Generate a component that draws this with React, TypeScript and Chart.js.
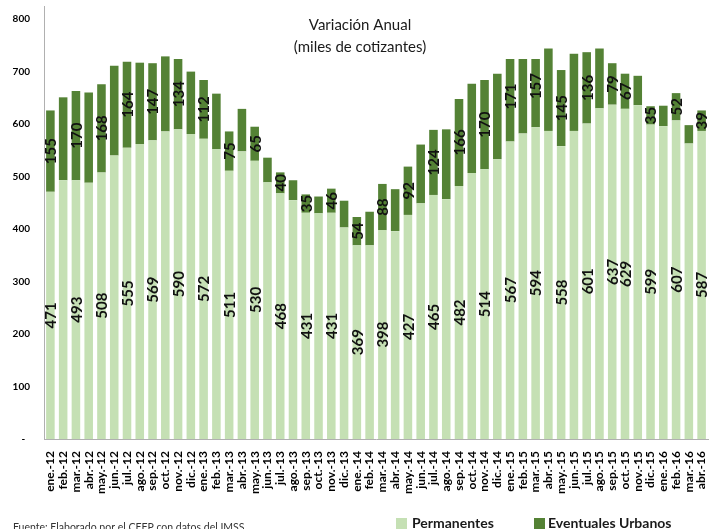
import React, { useEffect, useRef } from "react";
import { Chart, registerables } from "chart.js";

Chart.register(...registerables);

const categories = [
  "ene.-12", "feb.-12", "mar.-12", "abr.-12", "may.-12", "jun.-12", "jul.-12", "ago.-12", "sep.-12", "oct.-12", "nov.-12", "dic.-12",
  "ene.-13", "feb.-13", "mar.-13", "abr.-13", "may.-13", "jun.-13", "jul.-13", "ago.-13", "sep.-13", "oct.-13", "nov.-13", "dic.-13",
  "ene.-14", "feb.-14", "mar.-14", "abr.-14", "may.-14", "jun.-14", "jul.-14", "ago.-14", "sep.-14", "oct.-14", "nov.-14", "dic.-14",
  "ene.-15", "feb.-15", "mar.-15", "abr.-15", "may.-15", "jun.-15", "jul.-15", "ago.-15", "sep.-15", "oct.-15", "nov.-15", "dic.-15",
  "ene.-16", "feb.-16", "mar.-16", "abr.-16",
];

const permanentes = [
  471, 493, 493, 488, 508, 540, 555, 562, 569, 586, 590, 581,
  572, 552, 511, 548, 530, 489, 468, 455, 431, 430, 431, 403,
  369, 369, 398, 396, 427, 449, 465, 457, 482, 507, 514, 533,
  567, 582, 594, 587, 558, 587, 601, 630, 637, 629, 636, 599,
  596, 607, 563, 587,
];

const eventuales = [
  155, 158, 170, 172, 168, 171, 164, 155, 147, 143, 134, 119,
  112, 106, 75, 81, 65, 47, 40, 38, 35, 32, 46, 51,
  54, 64, 88, 80, 92, 112, 124, 133, 166, 170, 170, 163,
  171, 165, 157, 157, 145, 147, 136, 114, 79, 67, 56, 35,
  39, 52, 35, 39,
];

// indices of bars whose value is labelled in the reference
const labeledPerm = [0, 2, 4, 6, 8, 10, 12, 14, 16, 18, 20, 22, 24, 26, 28, 30, 32, 34, 36, 38, 40, 42, 44, 45, 47, 49, 51];
const labeledEv = [0, 2, 4, 6, 8, 10, 12, 14, 16, 18, 20, 22, 24, 26, 28, 30, 32, 34, 36, 38, 40, 42, 44, 45, 47, 49, 51];

const yTicks = [0, 100, 200, 300, 400, 500, 600, 700, 800];

const seriesNames = ["Permanentes", "Eventuales Urbanos"];
const titleLines = ["Variación Anual", "(miles de cotizantes)"];
const footer = "Fuente: Elaborado por el CEFP con datos del IMSS.";

const LIGHT = "#c5e0b4";
const DARK = "#548235";
const FONT = "Lato, 'Open Sans', sans-serif";

function zeroPadding(scale: any) {
  scale.paddingTop = 0;
  scale.paddingBottom = 0;
  scale.paddingLeft = 0;
  scale.paddingRight = 0;
}

export default function App() {
  const ref = useRef<HTMLCanvasElement | null>(null);

  useEffect(() => {
    document.body.style.margin = "0";
    const canvas = ref.current;
    if (!canvas) return;

    const overlay = {
      id: "overlay",
      afterDatasetsDraw(chart: any) {
        const ctx = chart.ctx;
        // value labels
        ctx.save();
        ctx.fillStyle = "#111";
        ctx.font = `bold 15px ${FONT}`;
        ctx.textAlign = "center";
        ctx.textBaseline = "middle";
        const lists = [labeledPerm, labeledEv];
        [0, 1].forEach((di) => {
          const meta = chart.getDatasetMeta(di);
          const data = chart.data.datasets[di].data as number[];
          lists[di].forEach((i) => {
            const el: any = meta.data[i];
            if (!el) return;
            const cy = (el.y + el.base) / 2;
            ctx.save();
            ctx.translate(el.x, cy);
            ctx.rotate(-Math.PI / 2);
            ctx.fillText(String(data[i]), 0, 1);
            ctx.restore();
          });
        });
        ctx.restore();

        // white title box covering bar tops (as in the reference)
        ctx.save();
        ctx.fillStyle = "#ffffff";
        ctx.fillRect(284, 0, 543 - 284, 59);
        ctx.fillStyle = "#1a1a1a";
        ctx.font = `15px ${FONT}`;
        ctx.textAlign = "center";
        ctx.textBaseline = "middle";
        ctx.fillText(titleLines[0], 360, 25);
        ctx.fillText(titleLines[1], 360, 47);
        ctx.restore();

        // legend
        ctx.save();
        ctx.textBaseline = "middle";
        ctx.textAlign = "left";
        ctx.font = `bold 14px ${FONT}`;
        ctx.fillStyle = LIGHT;
        ctx.fillRect(396, 518, 11, 11);
        ctx.fillStyle = "#1a1a1a";
        ctx.fillText(seriesNames[0], 412, 523);
        ctx.fillStyle = DARK;
        ctx.fillRect(534, 518, 11, 11);
        ctx.fillStyle = "#1a1a1a";
        ctx.fillText(seriesNames[1], 548, 523);
        // footer
        ctx.font = `10.5px ${FONT}`;
        ctx.fillStyle = "#333";
        ctx.textBaseline = "alphabetic";
        ctx.fillText(footer, 13, 531);
        ctx.restore();
      },
    };

    const chart = new Chart(canvas, {
      type: "bar",
      data: {
        labels: categories,
        datasets: [
          { label: seriesNames[0], data: permanentes, backgroundColor: LIGHT, barPercentage: 0.67, categoryPercentage: 1 },
          { label: seriesNames[1], data: eventuales, backgroundColor: DARK, barPercentage: 0.67, categoryPercentage: 1 },
        ],
      },
      options: {
        responsive: false,
        animation: false,
        layout: { padding: { top: 6, right: 4, left: 0, bottom: 0 } },
        plugins: { legend: { display: false }, tooltip: { enabled: false }, title: { display: false } },
        scales: {
          x: {
            stacked: true,
            grid: { display: false, drawTicks: false },
            border: { display: true, color: "#b0b0b0", width: 1 },
            ticks: {
              autoSkip: false,
              minRotation: 90,
              maxRotation: 90,
              padding: 12,
              color: "#000",
              font: { family: FONT, size: 12, weight: "bold" },
            },
            afterFit(scale: any) {
              scale.height = 90;
              zeroPadding(scale);
            },
          },
          y: {
            stacked: true,
            min: 0,
            max: 825,
            grid: { display: false, drawTicks: false },
            border: { display: true, color: "#b0b0b0", width: 1 },
            afterBuildTicks(scale: any) {
              scale.ticks = yTicks.map((v) => ({ value: v }));
            },
            ticks: {
              padding: 14,
              color: "#000",
              font: { family: FONT, size: 10, weight: "bold" },
              callback: (v: any) => (Number(v) === 0 ? "-  " : String(v)),
            },
            afterFit(scale: any) {
              scale.width = 44;
              zeroPadding(scale);
            },
          },
        },
      },
      plugins: [overlay],
    });

    return () => chart.destroy();
  }, []);

  return (
    <div style={{ position: "fixed", left: 0, top: 0, width: 712, height: 529 }}>
      <canvas ref={ref} width={712} height={529} style={{ width: 712, height: 529 }} />
    </div>
  );
}
